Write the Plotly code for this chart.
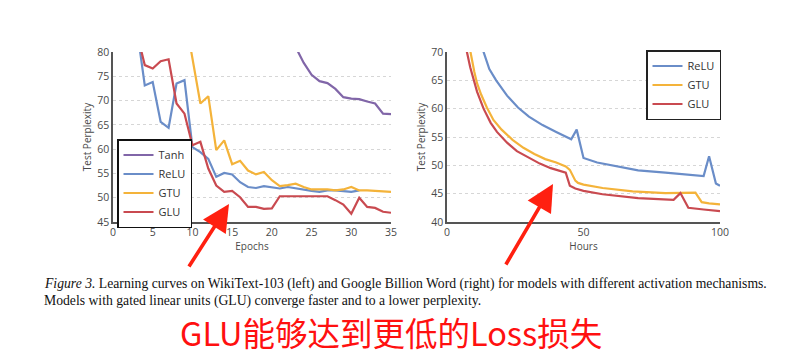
import plotly.graph_objects as go

# ---------------- Left panel: WikiText-103 (epochs) ----------------
tanh_epochs = [22, 23, 24, 25, 26, 27, 28, 29, 30, 31, 32, 33, 34, 35]
tanh_ppl = [85.0, 81.0, 77.8, 75.3, 74.0, 73.6, 72.4, 70.7, 70.4, 70.3, 69.8, 69.4, 67.3, 67.2]

relu_epochs = list(range(3, 32))
relu_ppl = [85.0, 73.1, 73.8, 65.6, 64.4, 73.5, 74.2, 60.4, 59.4, 58.0, 54.3, 55.1, 54.8,
            53.2, 52.2, 52.0, 52.4, 52.2, 51.9, 52.2, 51.9, 51.7, 51.4, 51.2, 51.5, 51.5,
            51.4, 51.2, 51.5]

gtu_epochs = list(range(9, 36))
gtu_ppl = [88.0, 78.5, 69.4, 70.9, 59.8, 61.8, 56.9, 57.6, 55.6, 54.8, 55.3, 53.6, 52.4,
           52.6, 52.9, 52.2, 51.7, 51.7, 51.7, 51.5, 51.7, 52.2, 51.5, 51.5, 51.4, 51.3, 51.2]

glu_epochs = list(range(3, 36))
glu_ppl = [84.0, 77.3, 76.6, 78.1, 78.5, 69.4, 67.3, 60.8, 61.5, 56.0, 52.5, 51.2, 51.4,
           50.1, 48.1, 48.1, 47.7, 47.8, 50.3, 50.3, 50.3, 50.3, 50.3, 50.3, 50.3, 49.5,
           48.6, 46.7, 50.0, 48.1, 47.9, 47.1, 46.9]

# ---------------- Right panel: Google Billion Word (hours) ----------------
relu_hours = [12, 13.4, 15.5, 18, 22, 26, 30, 35, 40, 45.5, 47.5, 50, 55, 60, 70, 80, 90, 94, 96, 98.5, 100]
relu_gbw = [73.0, 70.0, 67.0, 65.0, 62.3, 60.2, 58.6, 57.1, 55.9, 54.6, 56.3, 51.3, 50.5, 50.0,
            49.1, 48.7, 48.3, 48.1, 51.6, 46.8, 46.4]

gtu_hours = [7, 8.5, 10, 11, 12.5, 14.6, 17, 20, 24, 28, 32, 36, 40, 43.5, 45, 47, 48, 50, 57,
             68, 80, 91, 93.3, 96, 100]
gtu_gbw = [74.0, 70.0, 66.5, 64.5, 62.5, 60.2, 58.0, 56.3, 54.5, 53.1, 52.0, 51.1, 50.5, 49.8,
           49.2, 47.3, 46.9, 46.6, 46.0, 45.4, 45.1, 45.2, 43.5, 43.3, 43.1]

glu_hours = [6, 7.3, 8.5, 9.7, 11, 13.4, 16, 18.3, 22, 25.6, 30, 34, 38, 42.7, 43.5, 45, 47, 50,
             57, 70, 83, 85.5, 88.4, 94, 100]
glu_gbw = [74.0, 70.0, 67.3, 65.2, 63.0, 60.0, 57.5, 55.9, 54.0, 52.5, 51.3, 50.3, 49.5, 48.9,
           48.7, 46.4, 45.9, 45.5, 44.9, 44.2, 43.9, 45.1, 42.5, 42.2, 41.9]

left_yticks = [45, 50, 55, 60, 65, 70, 75, 80]
left_xticks = [0, 5, 10, 15, 20, 25, 30, 35]
right_yticks = [40, 45, 50, 55, 60, 65, 70]
right_xticks = [0, 50, 100]

caption_1 = ("<i>Figure 3.</i> Learning curves on WikiText-103 (left) and Google Billion Word (right) "
             "for models with different activation mechanisms.")
caption_2 = "Models with gated linear units (GLU) converge faster and to a lower perplexity."
note_text = "GLU能够达到更低的Loss损失"

C_TANH = "#8166a8"
C_RELU = "#6a8dc8"
C_GTU = "#f4b33a"
C_GLU = "#c94a50"

fig = go.Figure()
lw = 2.2

fig.add_trace(go.Scatter(x=tanh_epochs, y=tanh_ppl, mode="lines", name="Tanh",
                         line=dict(color=C_TANH, width=lw), xaxis="x", yaxis="y", legend="legend"))
fig.add_trace(go.Scatter(x=relu_epochs, y=relu_ppl, mode="lines", name="ReLU",
                         line=dict(color=C_RELU, width=lw), xaxis="x", yaxis="y", legend="legend"))
fig.add_trace(go.Scatter(x=gtu_epochs, y=gtu_ppl, mode="lines", name="GTU",
                         line=dict(color=C_GTU, width=lw), xaxis="x", yaxis="y", legend="legend"))
fig.add_trace(go.Scatter(x=glu_epochs, y=glu_ppl, mode="lines", name="GLU",
                         line=dict(color=C_GLU, width=lw), xaxis="x", yaxis="y", legend="legend"))

fig.add_trace(go.Scatter(x=relu_hours, y=relu_gbw, mode="lines", name="ReLU",
                         line=dict(color=C_RELU, width=lw), xaxis="x2", yaxis="y2", legend="legend2"))
fig.add_trace(go.Scatter(x=gtu_hours, y=gtu_gbw, mode="lines", name="GTU",
                         line=dict(color=C_GTU, width=lw), xaxis="x2", yaxis="y2", legend="legend2"))
fig.add_trace(go.Scatter(x=glu_hours, y=glu_gbw, mode="lines", name="GLU",
                         line=dict(color=C_GLU, width=lw), xaxis="x2", yaxis="y2", legend="legend2"))

# The page places the figure 8 px from the top-left of the window (body margin),
# so layout positions are given in window pixels and shifted by that offset.
OFF = 8
W, H = 791 - 2 * OFF, 363 - 2 * OFF

def px(x):
    return (x - OFF) / W

def py(y):
    return 1 - (y - OFF) / H

tick_font = dict(family="Open Sans, DejaVu Sans, sans-serif", size=10.5, color="#4a4a4a")
title_font = dict(family="Open Sans, DejaVu Sans, sans-serif", size=10, color="#4a4a4a")

def xaxis(dom, rng, ticks, title, anchor):
    return dict(domain=dom, range=rng, tickvals=ticks, showgrid=False, zeroline=False,
                showline=True, linecolor="#555", linewidth=1.5, ticks="", tickfont=tick_font,
                title=dict(text=title, font=title_font, standoff=1), anchor=anchor,
                fixedrange=True, automargin=False)

def yaxis(dom, rng, ticks, anchor):
    return dict(domain=dom, range=rng, tickvals=ticks, showgrid=True, gridcolor="#d6d6d6",
                griddash="dot", gridwidth=1, zeroline=False, showline=True, linecolor="#555",
                linewidth=1.5, ticks="", tickfont=tick_font,
                title=dict(text="Test Perplexity", font=title_font, standoff=4), anchor=anchor,
                fixedrange=True, automargin=False)

ydom = [py(222), py(52)]
legend_font = dict(family="Open Sans, DejaVu Sans, sans-serif", size=11, color="#333")
fig.update_layout(
    width=W, height=H,
    margin=dict(l=0, r=0, t=0, b=0, autoexpand=False),
    paper_bgcolor="white", plot_bgcolor="white",
    showlegend=True,
    xaxis=xaxis([px(113), px(391)], [0, 35], left_xticks, "Epochs", "y"),
    yaxis=yaxis(ydom, [45, 80], left_yticks, "x"),
    xaxis2=xaxis([px(447), px(720)], [0, 100], right_xticks, "Hours", "y2"),
    yaxis2=yaxis(ydom, [40, 70], right_yticks, "x2"),
    legend=dict(x=px(117), y=py(139), xanchor="left", yanchor="top",
                bordercolor="#111", borderwidth=1.5, bgcolor="white",
                font=legend_font, tracegroupgap=0, itemwidth=30),
    legend2=dict(x=px(646), y=py(50), xanchor="left", yanchor="top",
                 bordercolor="#222", borderwidth=1.5, bgcolor="white",
                 font=legend_font, tracegroupgap=0, itemwidth=30),
)

cap_font = dict(family="Liberation Serif, Times New Roman, serif", size=13.7, color="#111")
fig.add_annotation(text=caption_1, xref="paper", yref="paper", x=px(42), y=py(284),
                   xanchor="left", yanchor="middle", showarrow=False, font=cap_font)
fig.add_annotation(text=caption_2, xref="paper", yref="paper", x=px(42), y=py(301),
                   xanchor="left", yanchor="middle", showarrow=False, font=cap_font)
fig.add_annotation(text=note_text, xref="paper", yref="paper", x=px(391), y=py(331),
                   xanchor="center", yanchor="middle", showarrow=False, borderpad=0,
                   font=dict(family="Noto Sans CJK SC, sans-serif", size=32.5, color="#ff1010"))

# red arrows
fig.add_annotation(text="", xref="paper", yref="paper", x=px(229), y=py(204),
                   ax=-41, ay=64, showarrow=True, arrowhead=2, arrowsize=1.5, arrowwidth=3.6,
                   arrowcolor="#ff2010")
fig.add_annotation(text="", xref="paper", yref="paper", x=px(553), y=py(184),
                   ax=-48, ay=82, showarrow=True, arrowhead=2, arrowsize=1.5, arrowwidth=3.6,
                   arrowcolor="#ff2010")

fig.write_html("out.html")
